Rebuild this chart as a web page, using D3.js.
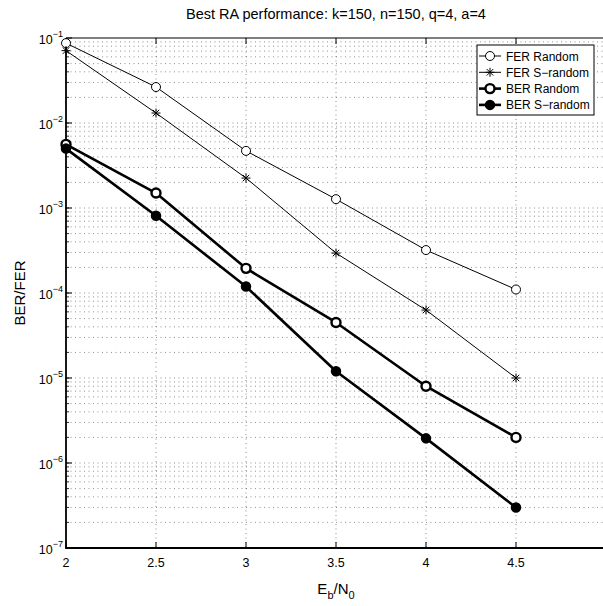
<!DOCTYPE html>
<html>
<head>
<meta charset="utf-8">
<script src="https://cdn.jsdelivr.net/npm/d3@7"></script>
<style>
  body { margin: 0; background: #fff; }
  text { font-family: "Liberation Sans", Arial, sans-serif; fill: #000; }
</style>
</head>
<body>
<script>
// data
var ebn0 = [2, 2.5, 3, 3.5, 4, 4.5];
var ferRandom = [0.087, 0.0265, 0.0047, 0.00127, 3.2e-4, 1.1e-4];
var ferSRandom = [0.071, 0.0131, 0.00225, 2.95e-4, 6.3e-5, 1.0e-5];
var berRandom = [5.6e-3, 1.5e-3, 1.95e-4, 4.5e-5, 8.0e-6, 2.0e-6];
var berSRandom = [5.0e-3, 8.1e-4, 1.19e-4, 1.2e-5, 1.95e-6, 3.0e-7];

var xTicks = [2, 2.5, 3, 3.5, 4, 4.5, 5];
var xTickLabels = ['2', '2.5', '3', '3.5', '4', '4.5', ''];
var yExponents = [-1, -2, -3, -4, -5, -6, -7];
var seriesNames = ["FER Random", "FER S\u2212random", "BER Random", "BER S\u2212random"];

var margin = { top: 38, bottom: 58, left: 66, right: -3 };
var W = 603, H = 606;
var width = W - margin.left - margin.right;
var height = H - margin.top - margin.bottom;

let svg = d3.select('body').append('svg')
    .attr('width', W)
    .attr('height', H);

let g = svg.append('g')
    .attr('transform', 'translate(' + margin.left + ',' + margin.top + ')');

let xScale = d3.scaleLinear().domain([2, 5]).range([0, width]);
let yScale = d3.scaleLog().domain([1e-7, 1e-1]).range([height, 0]);

// dotted grid: all decade + minor lines horizontally, majors vertically
let yGrid = [];
yExponents.forEach(function(e) {
    if (e === -1) return;
    for (let k = 1; k <= 9; k++) yGrid.push(k * Math.pow(10, e));
});
yGrid = yGrid.filter(function(v) { return v > 1e-7 * 1.001 && v < 1e-1 * 0.999; });

g.append('g').selectAll('line').data(yGrid).enter().append('line')
    .attr('x1', 0).attr('x2', width)
    .attr('y1', d => yScale(d)).attr('y2', d => yScale(d))
    .style('stroke', '#444')
    .attr('stroke-width', 0.6)
    .attr('stroke-dasharray', '1,3.5');

g.append('g').selectAll('line').data(xTicks.slice(1, -1)).enter().append('line')
    .attr('x1', d => xScale(d)).attr('x2', d => xScale(d))
    .attr('y1', 0).attr('y2', height)
    .style('stroke', '#444')
    .attr('stroke-width', 0.6)
    .attr('stroke-dasharray', '1,3.5');

// frame
g.append('path')
    .attr('d', 'M0 0 L' + width + ' 0')
    .style('stroke', '#000').attr('stroke-width', 1.2);
g.append('path')
    .attr('d', 'M0 0 L0 ' + height + ' L' + width + ' ' + height)
    .style('stroke', '#000').style('fill', 'none').attr('stroke-width', 1.8);

// x axis ticks (inward, bottom and top)
xTicks.forEach(function(t, i) {
    let x = xScale(t);
    g.append('path').attr('d', 'M' + x + ' ' + height + ' L' + x + ' ' + (height - 6))
        .style('stroke', '#000').attr('stroke-width', 1);
    g.append('path').attr('d', 'M' + x + ' 0 L' + x + ' 6')
        .style('stroke', '#000').attr('stroke-width', 1);
    if (xTickLabels[i]) {
        g.append('text')
            .attr('x', x).attr('y', height + 19)
            .attr('text-anchor', 'middle')
            .style('font-size', '12.5px')
            .text(xTickLabels[i]);
    }
});

// y axis ticks (major + minor)
yExponents.forEach(function(e) {
    let y = yScale(Math.pow(10, e));
    g.append('path').attr('d', 'M0 ' + y + ' L6 ' + y)
        .style('stroke', '#000').attr('stroke-width', 1);
    let t = g.append('text')
        .attr('x', -3).attr('y', y + 5.5)
        .attr('text-anchor', 'end')
        .style('font-size', '12.5px');
    t.append('tspan').text('10');
    t.append('tspan').attr('dy', -7).style('font-size', '9px').text('\u2212' + (-e));
});
yGrid.forEach(function(v) {
    let y = yScale(v);
    g.append('path').attr('d', 'M0 ' + y + ' L3 ' + y)
        .style('stroke', '#000').attr('stroke-width', 0.8);
});

// series
let series = [
    { name: seriesNames[0], values: ferRandom, lw: 1, marker: 'circle', fill: 'none', mw: 1 },
    { name: seriesNames[1], values: ferSRandom, lw: 1, marker: 'star', fill: 'none', mw: 1 },
    { name: seriesNames[2], values: berRandom, lw: 2.6, marker: 'circle', fill: 'none', mw: 2.4 },
    { name: seriesNames[3], values: berSRandom, lw: 2.6, marker: 'circle', fill: '#000', mw: 1.5 }
];

let line = d3.line()
    .x((d, i) => xScale(ebn0[i]))
    .y(d => yScale(d));

function drawMarker(sel, s, x, y) {
    if (s.marker === 'circle') {
        sel.append('circle').attr('cx', x).attr('cy', y).attr('r', 4.5)
            .style('fill', s.fill === 'none' ? '#fff' : s.fill)
            .style('stroke', '#000').attr('stroke-width', s.mw);
    } else {
        let r = 4.5, d = r * 0.72;
        sel.append('path')
            .attr('d', 'M' + (x - r) + ' ' + y + ' L' + (x + r) + ' ' + y +
                ' M' + x + ' ' + (y - r) + ' L' + x + ' ' + (y + r) +
                ' M' + (x - d) + ' ' + (y - d) + ' L' + (x + d) + ' ' + (y + d) +
                ' M' + (x - d) + ' ' + (y + d) + ' L' + (x + d) + ' ' + (y - d))
            .style('stroke', '#000').attr('stroke-width', 1);
    }
}

series.forEach(function(s) {
    g.append('path')
        .datum(s.values)
        .attr('d', line)
        .style('fill', 'none')
        .style('stroke', '#000')
        .attr('stroke-width', s.lw)
        .attr('stroke-linejoin', 'round');
    s.values.forEach(function(v, i) {
        drawMarker(g, s, xScale(ebn0[i]), yScale(v));
    });
});

// legend
let lg = svg.append('g').attr('transform', 'translate(477,45)');
lg.append('rect').attr('width', 117).attr('height', 70)
    .style('fill', '#fff').style('stroke', '#000').attr('stroke-width', 1);
series.forEach(function(s, i) {
    let y = 11 + i * 16.3;
    lg.append('path').attr('d', 'M2 ' + y + ' L24 ' + y)
        .style('stroke', '#000').attr('stroke-width', s.lw);
    drawMarker(lg, s, 13, y);
    lg.append('text').attr('x', 29).attr('y', y + 4.5)
        .style('font-size', '12px')
        .text(s.name);
});

// title and labels
svg.append('text')
    .attr('x', margin.left + xScale(3.5)).attr('y', 19)
    .attr('text-anchor', 'middle')
    .style('font-size', '14.5px')
    .text('Best RA performance: k=150, n=150, q=4, a=4');

let xl = svg.append('text')
    .attr('x', margin.left + xScale(3.5)).attr('y', 594)
    .attr('text-anchor', 'middle')
    .style('font-size', '15px');
xl.append('tspan').text('E');
xl.append('tspan').attr('dy', 5).style('font-size', '11px').text('b');
xl.append('tspan').attr('dy', -5).text('/N');
xl.append('tspan').attr('dy', 5).style('font-size', '11px').text('0');

svg.append('text')
    .attr('transform', 'translate(25,' + (margin.top + height / 2) + ') rotate(-90)')
    .attr('text-anchor', 'middle')
    .style('font-size', '15px')
    .text('BER/FER');
</script>
</body>
</html>
